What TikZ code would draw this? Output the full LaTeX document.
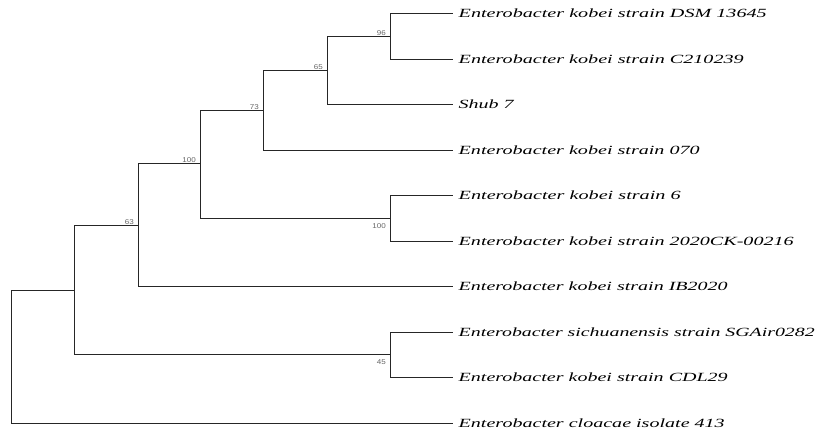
\documentclass[tikz,border=0pt]{standalone}
\usepackage{graphicx}
\usepackage{fontspec}
\setmainfont{Liberation Serif}
\newfontfamily\taxonfont[FakeStretch=1.3]{Liberation Serif}
\newfontfamily\bootfont[FakeStretch=1.15]{Liberation Sans}

% leaf label, stretched to the given width
\newcommand{\taxname}[2]{\resizebox{#1pt}{\height}{#2}}
\newcommand{\clade}[3]{\draw[branch] (#2) -| (#1) |- (#3);}

\begin{document}
\begin{tikzpicture}[x=1pt,y=-1pt,
  branch/.style={line width=1.2pt,color=black!85},
  taxon/.style={anchor=west,inner xsep=6pt,inner ysep=0pt,text height=8pt,text depth=0pt,
    font=\taxonfont\itshape\fontsize{12.5}{14}\selectfont},
  boot/.style={font=\bootfont\fontsize{7}{8}\selectfont,text=black!60,inner sep=1pt}]

\useasboundingbox (0,0) rectangle (822,434);

% inner nodes
\coordinate (n96) at (390.5,36.5);
\coordinate (n65) at (327.5,70.5);
\coordinate (n73) at (263.5,110.5);
\coordinate (n100a) at (200.5,163.5);
\coordinate (n100b) at (390.5,218.5);
\coordinate (n63) at (138.5,225.5);
\coordinate (n45) at (390.5,354.5);
\coordinate (nX) at (74.5,290.5);
\coordinate (R) at (11.5,356.5);

% leaves
\node[taxon] (L1) at (452.5,13.5) {\taxname{308}{Enterobacter kobei strain DSM 13645}};
\node[taxon] (L2) at (452.5,59.5) {\taxname{285}{Enterobacter kobei strain C210239}};
\node[taxon] (L3) at (452.5,104.5) {\taxname{55}{Shub 7}};
\node[taxon] (L4) at (452.5,150.5) {\taxname{241}{Enterobacter kobei strain 070}};
\node[taxon] (L5) at (452.5,195.5) {\taxname{222}{Enterobacter kobei strain 6}};
\node[taxon] (L6) at (452.5,241.5) {\taxname{335}{Enterobacter kobei strain 2020CK-00216}};
\node[taxon] (L7) at (452.5,286.5) {\taxname{269}{Enterobacter kobei strain IB2020}};
\node[taxon] (L8) at (452.5,332.5) {\taxname{356}{Enterobacter sichuanensis strain SGAir0282}};
\node[taxon] (L9) at (452.5,377.5) {\taxname{269}{Enterobacter kobei strain CDL29}};
\node[taxon] (L10) at (452.5,423.5) {\taxname{266}{Enterobacter cloacae isolate 413}};

\clade{n96}{L1.west}{L2.west}
\clade{n65}{n96}{L3.west}
\clade{n73}{n65}{L4.west}
\clade{n100b}{L5.west}{L6.west}
\clade{n100a}{n73}{n100b}
\clade{n63}{n100a}{L7.west}
\clade{n45}{L8.west}{L9.west}
\clade{nX}{n63}{n45}
\clade{R}{nX}{L10.west}

% bootstrap values
\node[boot,anchor=south east,xshift=-3.5pt] (b96) at (n96) {96};
\node[boot,anchor=south east,xshift=-3.5pt] (b65) at (n65) {65};
\node[boot,anchor=south east,xshift=-3.5pt] (b73) at (n73) {73};
\node[boot,anchor=south east,xshift=-3.5pt] (b100a) at (n100a) {100};
\node[boot,anchor=south east,xshift=-3.5pt] (b63) at (n63) {63};
\node[boot,anchor=north east,xshift=-3.5pt,yshift=-3.5pt] (b100b) at (n100b) {100};
\node[boot,anchor=north east,xshift=-3.5pt,yshift=-3.5pt] (b45) at (n45) {45};

\end{tikzpicture}
\end{document}
